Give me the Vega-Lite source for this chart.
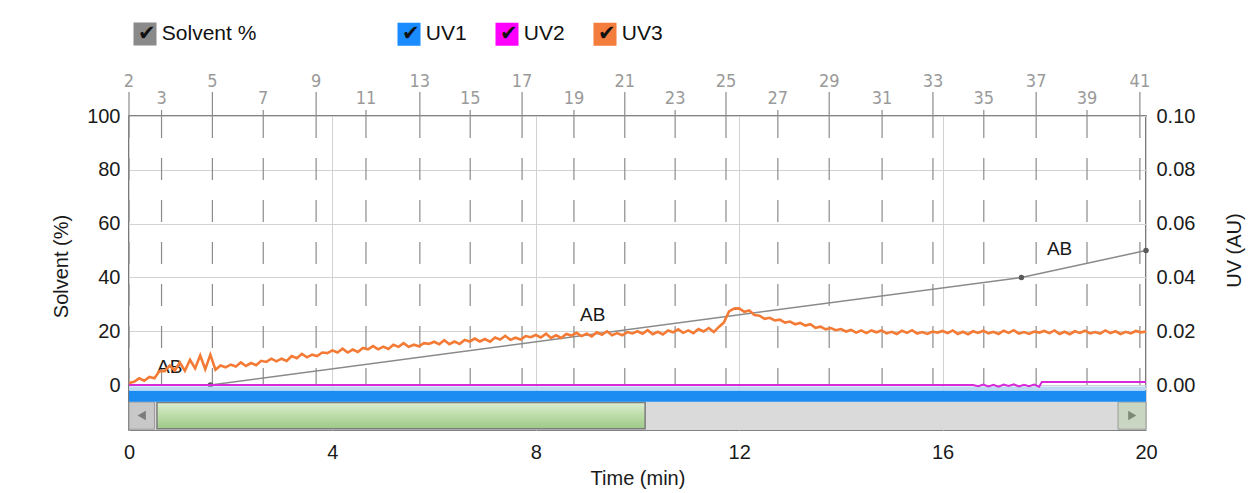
{
  "$schema": "https://vega.github.io/schema/vega-lite/v6.json",
  "width": 1017,
  "height": 314,
  "autosize": {"type": "none"},
  "padding": {"left": 129, "top": 116, "right": 106, "bottom": 63},
  "background": "white",
  "config": {
    "font": "Liberation Sans",
    "view": {"stroke": "#5a5a5a", "strokeWidth": 1.6},
    "axis": {
      "domain": false,
      "ticks": false,
      "labelFlush": false,
      "labelFont": "Liberation Sans",
      "labelFontSize": 20,
      "labelColor": "#1a1a1a",
      "titleFont": "Liberation Sans",
      "titleFontSize": 20,
      "titleFontWeight": "normal",
      "titleColor": "#1a1a1a",
      "gridColor": "#d2d2d2",
      "gridWidth": 1
    },
    "legend": {
      "padding": 0,
      "labelFont": "Liberation Sans",
      "labelFontSize": 21,
      "labelColor": "#111111",
      "symbolType": "square",
      "symbolSize": 530,
      "symbolStrokeWidth": 0,
      "symbolOpacity": 1,
      "labelOffset": -19,
      "columnPadding": 22,
      "direction": "horizontal",
      "orient": "none",
      "title": null
    }
  },
  "datasets": {
    "fractions": [
      {"f": 2, "t": 0.0, "level": "upper"},
      {"f": 3, "t": 0.64, "level": "lower"},
      {"f": 5, "t": 1.64, "level": "upper"},
      {"f": 7, "t": 2.64, "level": "lower"},
      {"f": 9, "t": 3.68, "level": "upper"},
      {"f": 11, "t": 4.66, "level": "lower"},
      {"f": 13, "t": 5.72, "level": "upper"},
      {"f": 15, "t": 6.71, "level": "lower"},
      {"f": 17, "t": 7.73, "level": "upper"},
      {"f": 19, "t": 8.75, "level": "lower"},
      {"f": 21, "t": 9.75, "level": "upper"},
      {"f": 23, "t": 10.74, "level": "lower"},
      {"f": 25, "t": 11.74, "level": "upper"},
      {"f": 27, "t": 12.76, "level": "lower"},
      {"f": 29, "t": 13.77, "level": "upper"},
      {"f": 31, "t": 14.81, "level": "lower"},
      {"f": 33, "t": 15.81, "level": "upper"},
      {"f": 35, "t": 16.81, "level": "lower"},
      {"f": 37, "t": 17.84, "level": "upper"},
      {"f": 39, "t": 18.84, "level": "lower"},
      {"f": 41, "t": 19.88, "level": "upper"}
    ],
    "solvent": [
      {"t": 0, "s": 0},
      {"t": 1.6, "s": 0},
      {"t": 17.55, "s": 40},
      {"t": 20, "s": 50}
    ],
    "solventPoints": [
      {"t": 1.6, "s": 0},
      {"t": 17.55, "s": 40},
      {"t": 20, "s": 50}
    ],
    "labels": [
      {"t": 0.8, "s": 6.7, "label": "AB"},
      {"t": 9.12, "s": 26, "label": "AB"},
      {"t": 18.3, "s": 50.6, "label": "AB"}
    ],
    "uv1": [
      {"t": 0, "v": -0.0042},
      {"t": 20, "v": -0.0042}
    ],
    "uv2": [
      {"t": 0, "v": 0}, {"t": 16.6, "v": 0}, {"t": 16.7, "v": -0.0004}, {"t": 16.8, "v": 0.0002},
      {"t": 16.9, "v": -0.0005}, {"t": 17.0, "v": 0.0001}, {"t": 17.1, "v": -0.0006}, {"t": 17.2, "v": 0.0002},
      {"t": 17.3, "v": -0.0003}, {"t": 17.4, "v": 0.0003}, {"t": 17.5, "v": -0.0005}, {"t": 17.6, "v": 0.0001},
      {"t": 17.7, "v": -0.0004}, {"t": 17.8, "v": 0.0002}, {"t": 17.9, "v": -0.0006}, {"t": 17.95, "v": 0.0011},
      {"t": 20, "v": 0.0011}
    ],
    "uv3": [
      {"t":0.0,"v":0.0008},{"t":0.1,"v":0.0012},{"t":0.2,"v":0.0025},{"t":0.3,"v":0.0016},{"t":0.4,"v":0.0030},
      {"t":0.5,"v":0.0025},{"t":0.6,"v":0.0052},{"t":0.7,"v":0.0052},{"t":0.8,"v":0.0072},{"t":0.9,"v":0.0054},
      {"t":1.0,"v":0.0084},{"t":1.1,"v":0.0053},{"t":1.2,"v":0.0094},{"t":1.3,"v":0.0062},{"t":1.4,"v":0.0110},
      {"t":1.5,"v":0.0059},{"t":1.6,"v":0.0113},{"t":1.7,"v":0.0057},{"t":1.8,"v":0.0073},{"t":1.9,"v":0.0066},
      {"t":2.0,"v":0.0076},{"t":2.1,"v":0.0069},{"t":2.2,"v":0.0084},{"t":2.3,"v":0.0071},{"t":2.4,"v":0.0082},
      {"t":2.5,"v":0.0074},{"t":2.6,"v":0.0090},{"t":2.7,"v":0.0086},{"t":2.8,"v":0.0098},{"t":2.9,"v":0.0088},
      {"t":3.0,"v":0.0098},{"t":3.1,"v":0.0090},{"t":3.2,"v":0.0108},{"t":3.3,"v":0.0100},{"t":3.4,"v":0.0116},
      {"t":3.5,"v":0.0103},{"t":3.6,"v":0.0113},{"t":3.7,"v":0.0108},{"t":3.8,"v":0.0121},{"t":3.9,"v":0.0119},
      {"t":4.0,"v":0.0129},{"t":4.1,"v":0.0121},{"t":4.2,"v":0.0135},{"t":4.3,"v":0.0121},{"t":4.4,"v":0.0132},
      {"t":4.5,"v":0.0123},{"t":4.6,"v":0.0138},{"t":4.7,"v":0.0133},{"t":4.8,"v":0.0145},{"t":4.9,"v":0.0133},
      {"t":5.0,"v":0.0143},{"t":5.1,"v":0.0134},{"t":5.2,"v":0.0150},{"t":5.3,"v":0.0142},{"t":5.4,"v":0.0156},
      {"t":5.5,"v":0.0142},{"t":5.6,"v":0.0150},{"t":5.7,"v":0.0144},{"t":5.8,"v":0.0156},{"t":5.9,"v":0.0153},
      {"t":6.0,"v":0.0161},{"t":6.1,"v":0.0152},{"t":6.2,"v":0.0167},{"t":6.3,"v":0.0152},{"t":6.4,"v":0.0162},
      {"t":6.5,"v":0.0153},{"t":6.6,"v":0.0168},{"t":6.7,"v":0.0162},{"t":6.8,"v":0.0173},{"t":6.9,"v":0.0162},
      {"t":7.0,"v":0.0171},{"t":7.1,"v":0.0161},{"t":7.2,"v":0.0177},{"t":7.3,"v":0.0169},{"t":7.4,"v":0.0183},
      {"t":7.5,"v":0.0168},{"t":7.6,"v":0.0176},{"t":7.7,"v":0.0169},{"t":7.8,"v":0.0182},{"t":7.9,"v":0.0178},
      {"t":8.0,"v":0.0186},{"t":8.1,"v":0.0177},{"t":8.2,"v":0.0191},{"t":8.3,"v":0.0175},{"t":8.4,"v":0.0185},
      {"t":8.5,"v":0.0175},{"t":8.6,"v":0.0190},{"t":8.7,"v":0.0184},{"t":8.8,"v":0.0194},{"t":8.9,"v":0.0182},
      {"t":9.0,"v":0.0191},{"t":9.1,"v":0.0181},{"t":9.2,"v":0.0196},{"t":9.3,"v":0.0187},{"t":9.4,"v":0.0200},
      {"t":9.5,"v":0.0185},{"t":9.6,"v":0.0193},{"t":9.7,"v":0.0185},{"t":9.8,"v":0.0197},{"t":9.9,"v":0.0192},
      {"t":10.0,"v":0.0200},{"t":10.1,"v":0.0191},{"t":10.2,"v":0.0204},{"t":10.3,"v":0.0189},{"t":10.4,"v":0.0198},
      {"t":10.5,"v":0.0188},{"t":10.6,"v":0.0203},{"t":10.7,"v":0.0196},{"t":10.8,"v":0.0207},{"t":10.9,"v":0.0194},
      {"t":11.0,"v":0.0203},{"t":11.1,"v":0.0193},{"t":11.2,"v":0.0208},{"t":11.3,"v":0.0199},{"t":11.4,"v":0.0212},
      {"t":11.5,"v":0.0197},{"t":11.6,"v":0.0216},{"t":11.7,"v":0.0233},{"t":11.8,"v":0.0274},{"t":11.9,"v":0.0284},
      {"t":12.0,"v":0.0285},{"t":12.1,"v":0.0272},{"t":12.2,"v":0.0277},{"t":12.3,"v":0.0260},{"t":12.4,"v":0.0258},
      {"t":12.5,"v":0.0246},{"t":12.6,"v":0.0250},{"t":12.7,"v":0.0240},{"t":12.8,"v":0.0243},{"t":12.9,"v":0.0232},
      {"t":13.0,"v":0.0236},{"t":13.1,"v":0.0226},{"t":13.2,"v":0.0231},{"t":13.3,"v":0.0221},{"t":13.4,"v":0.0226},
      {"t":13.5,"v":0.0213},{"t":13.6,"v":0.0217},{"t":13.7,"v":0.0207},{"t":13.8,"v":0.0212},{"t":13.9,"v":0.0204},
      {"t":14.0,"v":0.0208},{"t":14.1,"v":0.0199},{"t":14.2,"v":0.0205},{"t":14.3,"v":0.0195},{"t":14.4,"v":0.0203},
      {"t":14.5,"v":0.0193},{"t":14.6,"v":0.0203},{"t":14.7,"v":0.0196},{"t":14.8,"v":0.0203},{"t":14.9,"v":0.0192},
      {"t":15.0,"v":0.0198},{"t":15.1,"v":0.0190},{"t":15.2,"v":0.0202},{"t":15.3,"v":0.0194},{"t":15.4,"v":0.0204},
      {"t":15.5,"v":0.0191},{"t":15.6,"v":0.0197},{"t":15.7,"v":0.0190},{"t":15.8,"v":0.0199},{"t":15.9,"v":0.0195},
      {"t":16.0,"v":0.0201},{"t":16.1,"v":0.0193},{"t":16.2,"v":0.0203},{"t":16.3,"v":0.0190},{"t":16.4,"v":0.0198},
      {"t":16.5,"v":0.0189},{"t":16.6,"v":0.0200},{"t":16.7,"v":0.0194},{"t":16.8,"v":0.0202},{"t":16.9,"v":0.0192},
      {"t":17.0,"v":0.0198},{"t":17.1,"v":0.0190},{"t":17.2,"v":0.0202},{"t":17.3,"v":0.0194},{"t":17.4,"v":0.0204},
      {"t":17.5,"v":0.0191},{"t":17.6,"v":0.0197},{"t":17.7,"v":0.0190},{"t":17.8,"v":0.0199},{"t":17.9,"v":0.0195},
      {"t":18.0,"v":0.0201},{"t":18.1,"v":0.0193},{"t":18.2,"v":0.0203},{"t":18.3,"v":0.0190},{"t":18.4,"v":0.0198},
      {"t":18.5,"v":0.0189},{"t":18.6,"v":0.0200},{"t":18.7,"v":0.0194},{"t":18.8,"v":0.0202},{"t":18.9,"v":0.0192},
      {"t":19.0,"v":0.0197},{"t":19.1,"v":0.0191},{"t":19.2,"v":0.0203},{"t":19.3,"v":0.0193},{"t":19.4,"v":0.0200},
      {"t":19.5,"v":0.0190},{"t":19.6,"v":0.0198},{"t":19.7,"v":0.0192},{"t":19.8,"v":0.0201},{"t":19.9,"v":0.0196},
      {"t":20.0,"v":0.0199}
    ],
    "solventLegend": [{"name": "Solvent %"}],
    "uvLegend": [{"name": "UV1"}, {"name": "UV2"}, {"name": "UV3"}]
  },
  "layer": [
    {
      "data": {"name": "solvent"},
      "mark": {"type": "line", "color": "#8a8a8a", "strokeWidth": 1.5, "opacity": 0},
      "encoding": {
        "x": {
          "field": "t", "type": "quantitative",
          "scale": {"domain": [0, 20], "nice": false, "zero": false},
          "axis": {"values": [0, 4, 8, 12, 16, 20], "grid": true, "labelFlush": false, "labelPadding": 12, "title": "Time (min)", "titlePadding": 6}
        },
        "y": {
          "field": "s", "type": "quantitative",
          "scale": {"domain": [-16.7, 100], "nice": false, "zero": false},
          "axis": {"values": [0, 20, 40, 60, 80, 100], "grid": true, "labelFlush": false, "labelPadding": 9, "title": "Solvent (%)", "titleAngle": 270, "titleX": -68, "titleY": 150, "titleBaseline": "middle", "titleAlign": "center"}
        }
      }
    },
    {
      "data": {"name": "uv3"},
      "mark": {"type": "line", "color": "#f47b35", "strokeWidth": 1.5, "opacity": 0},
      "encoding": {
        "x": {"field": "t", "type": "quantitative", "axis": null},
        "y": {
          "field": "v", "type": "quantitative",
          "scale": {"domain": [-0.0167, 0.1], "nice": false, "zero": false},
          "axis": {"orient": "right", "values": [0, 0.02, 0.04, 0.06, 0.08, 0.1], "format": ".2f", "grid": false, "labelFlush": false, "labelPadding": 10, "title": "UV (AU)", "titleAngle": 270, "titleX": 88, "titleY": 134, "titleBaseline": "middle", "titleAlign": "center"}
        }
      }
    },
    {
      "data": {"name": "fractions"},
      "mark": {"type": "rule", "color": "#8c8c8c", "strokeWidth": 1.2, "strokeDash": [22, 20]},
      "encoding": {
        "x": {"field": "t", "type": "quantitative", "axis": null},
        "y": {"datum": 100, "type": "quantitative", "scale": {"domain": [-16.7, 100], "nice": false, "zero": false}, "axis": null},
        "y2": {"datum": 0}
      }
    },
    {
      "data": {"name": "fractions"},
      "transform": [{"filter": "datum.level === 'upper'"}],
      "mark": {"type": "rule", "color": "#8c8c8c", "strokeWidth": 1.2},
      "encoding": {
        "x": {"field": "t", "type": "quantitative", "axis": null},
        "y": {"datum": 100, "type": "quantitative", "scale": {"domain": [-16.7, 100], "nice": false, "zero": false}, "axis": null},
        "y2": {"datum": 108.9}
      }
    },
    {
      "data": {"name": "fractions"},
      "transform": [{"filter": "datum.level === 'lower'"}],
      "mark": {"type": "rule", "color": "#8c8c8c", "strokeWidth": 1.2},
      "encoding": {
        "x": {"field": "t", "type": "quantitative", "axis": null},
        "y": {"datum": 100, "type": "quantitative", "scale": {"domain": [-16.7, 100], "nice": false, "zero": false}, "axis": null},
        "y2": {"datum": 102.2}
      }
    },
    {
      "data": {"name": "fractions"},
      "transform": [{"filter": "datum.level === 'upper'"}],
      "mark": {"type": "text", "color": "#9a9a9a", "fontSize": 18, "font": "Liberation Sans Narrow, DejaVu Sans Condensed, Liberation Sans", "align": "center", "baseline": "middle"},
      "encoding": {
        "x": {"field": "t", "type": "quantitative", "axis": null},
        "y": {"datum": 112.8, "type": "quantitative", "scale": {"domain": [-16.7, 100], "nice": false, "zero": false}, "axis": null},
        "text": {"field": "f", "type": "nominal"}
      }
    },
    {
      "data": {"name": "fractions"},
      "transform": [{"filter": "datum.level === 'lower'"}],
      "mark": {"type": "text", "color": "#9a9a9a", "fontSize": 18, "font": "Liberation Sans Narrow, DejaVu Sans Condensed, Liberation Sans", "align": "center", "baseline": "middle"},
      "encoding": {
        "x": {"field": "t", "type": "quantitative", "axis": null},
        "y": {"datum": 106.5, "type": "quantitative", "scale": {"domain": [-16.7, 100], "nice": false, "zero": false}, "axis": null},
        "text": {"field": "f", "type": "nominal"}
      }
    },
    {
      "data": {"name": "solvent"},
      "mark": {"type": "line", "color": "#8a8a8a", "strokeWidth": 1.5},
      "encoding": {
        "x": {"field": "t", "type": "quantitative", "axis": null},
        "y": {"field": "s", "type": "quantitative", "scale": {"domain": [-16.7, 100], "nice": false, "zero": false}, "axis": null}
      }
    },
    {
      "data": {"name": "solventPoints"},
      "mark": {"type": "point", "filled": true, "color": "#5a5a5a", "size": 30, "opacity": 1},
      "encoding": {
        "x": {"field": "t", "type": "quantitative", "axis": null},
        "y": {"field": "s", "type": "quantitative", "scale": {"domain": [-16.7, 100], "nice": false, "zero": false}, "axis": null}
      }
    },
    {
      "data": {"name": "labels"},
      "mark": {"type": "text", "color": "#1a1a1a", "fontSize": 19, "align": "center", "baseline": "middle"},
      "encoding": {
        "x": {"field": "t", "type": "quantitative", "axis": null},
        "y": {"field": "s", "type": "quantitative", "scale": {"domain": [-16.7, 100], "nice": false, "zero": false}, "axis": null},
        "text": {"field": "label", "type": "nominal"}
      }
    },
    {
      "data": {"values": [{}]},
      "mark": {"type": "rect", "color": "#dadada"},
      "encoding": {
        "x": {"datum": 0, "type": "quantitative", "axis": null},
        "x2": {"datum": 20},
        "y": {"datum": -6, "type": "quantitative", "scale": {"domain": [-16.7, 100], "nice": false, "zero": false}, "axis": null},
        "y2": {"datum": -16.7}
      }
    },
    {
      "data": {"values": [{}]},
      "mark": {"type": "rect", "color": "#c8c8c8", "stroke": "#9a9a9a", "strokeWidth": 1},
      "encoding": {
        "x": {"datum": 0, "type": "quantitative", "axis": null},
        "x2": {"datum": 0.5},
        "y": {"datum": -6.3, "type": "quantitative", "scale": {"domain": [-16.7, 100], "nice": false, "zero": false}, "axis": null},
        "y2": {"datum": -16.4}
      }
    },
    {
      "data": {"values": [{}]},
      "mark": {"type": "rect", "color": "#c9d6c2", "stroke": "#9a9a9a", "strokeWidth": 1},
      "encoding": {
        "x": {"datum": 19.45, "type": "quantitative", "axis": null},
        "x2": {"datum": 20},
        "y": {"datum": -6.3, "type": "quantitative", "scale": {"domain": [-16.7, 100], "nice": false, "zero": false}, "axis": null},
        "y2": {"datum": -16.4}
      }
    },
    {
      "data": {"values": [{}]},
      "mark": {
        "type": "rect",
        "stroke": "#7d7d7d",
        "strokeWidth": 1.5,
        "fill": {
          "gradient": "linear", "x1": 0, "y1": 0, "x2": 0, "y2": 1,
          "stops": [
            {"offset": 0, "color": "#dcedd0"},
            {"offset": 0.5, "color": "#bcdca8"},
            {"offset": 1, "color": "#9fc98a"}
          ]
        }
      },
      "encoding": {
        "x": {"datum": 0.55, "type": "quantitative", "axis": null},
        "x2": {"datum": 10.15},
        "y": {"datum": -6.5, "type": "quantitative", "scale": {"domain": [-16.7, 100], "nice": false, "zero": false}, "axis": null},
        "y2": {"datum": -16.2}
      }
    },
    {
      "data": {"values": [{}]},
      "mark": {"type": "point", "shape": "triangle-left", "filled": true, "color": "#7a7a7a", "size": 90, "opacity": 1},
      "encoding": {
        "x": {"datum": 0.25, "type": "quantitative", "axis": null},
        "y": {"datum": -11.3, "type": "quantitative", "scale": {"domain": [-16.7, 100], "nice": false, "zero": false}, "axis": null}
      }
    },
    {
      "data": {"values": [{}]},
      "mark": {"type": "point", "shape": "triangle-right", "filled": true, "color": "#7a8a74", "size": 90, "opacity": 1},
      "encoding": {
        "x": {"datum": 19.73, "type": "quantitative", "axis": null},
        "y": {"datum": -11.3, "type": "quantitative", "scale": {"domain": [-16.7, 100], "nice": false, "zero": false}, "axis": null}
      }
    },
    {
      "data": {"name": "uv1"},
      "mark": {"type": "line", "color": "#bcd8f2", "strokeWidth": 4},
      "encoding": {
        "x": {"field": "t", "type": "quantitative", "axis": null},
        "y": {"datum": -0.0013, "type": "quantitative", "scale": {"domain": [-0.0167, 0.1], "nice": false, "zero": false}, "axis": null}
      }
    },
    {
      "data": {"name": "uv1"},
      "mark": {"type": "line", "color": "#1b8cf2", "strokeWidth": 11, "strokeCap": "butt"},
      "encoding": {
        "x": {"field": "t", "type": "quantitative", "axis": null},
        "y": {"field": "v", "type": "quantitative", "scale": {"domain": [-0.0167, 0.1], "nice": false, "zero": false}, "axis": null}
      }
    },
    {
      "data": {"name": "uv2"},
      "mark": {"type": "line", "color": "#d92ad9", "strokeWidth": 2},
      "encoding": {
        "x": {"field": "t", "type": "quantitative", "axis": null},
        "y": {"field": "v", "type": "quantitative", "scale": {"domain": [-0.0167, 0.1], "nice": false, "zero": false}, "axis": null}
      }
    },
    {
      "data": {"name": "uv3"},
      "mark": {"type": "line", "color": "#f47b35", "strokeWidth": 2.6},
      "encoding": {
        "x": {"field": "t", "type": "quantitative", "axis": null},
        "y": {"field": "v", "type": "quantitative", "scale": {"domain": [-0.0167, 0.1], "nice": false, "zero": false}, "axis": null}
      }
    },
    {
      "data": {"name": "solventLegend"},
      "mark": {"type": "point", "shape": "square", "filled": true, "opacity": 0},
      "encoding": {
        "color": {
          "field": "name", "type": "nominal",
          "scale": {"domain": ["Solvent %"], "range": ["#8a8a8a"]},
          "legend": {"legendX": 4, "legendY": -94, "labelExpr": "'✔   ' + datum.label"}
        }
      }
    },
    {
      "data": {"name": "uvLegend"},
      "mark": {"type": "point", "shape": "square", "filled": true, "opacity": 0},
      "encoding": {
        "color": {
          "field": "name", "type": "nominal",
          "scale": {"domain": ["UV1", "UV2", "UV3"], "range": ["#1a8cff", "#ff00ff", "#f47c3c"]},
          "legend": {"legendX": 268, "legendY": -94, "labelExpr": "'✔  ' + datum.label"}
        }
      }
    }
  ],
  "resolve": {
    "scale": {"y": "independent", "color": "independent"},
    "axis": {"x": "independent", "y": "independent"},
    "legend": {"color": "independent"}
  }
}
